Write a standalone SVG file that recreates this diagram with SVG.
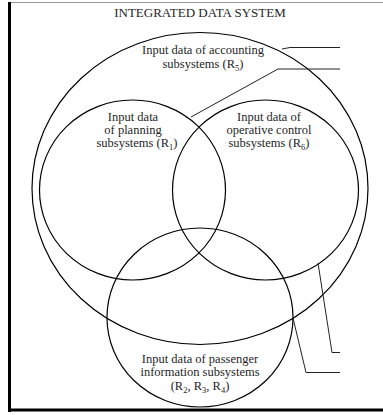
<svg xmlns="http://www.w3.org/2000/svg" width="383" height="415" viewBox="0 0 383 415">
  <style>
    .set { fill: none; stroke: #000; stroke-width: 1.2; }
    .lead { fill: none; stroke: #222; stroke-width: 1; }
    .frame { stroke: #000; stroke-width: 3; }
    .label { font-family: "Liberation Serif", "Times New Roman", serif; font-size: 12.5px; fill: #262626; text-anchor: middle; }
    .title { font-size: 13px; }
    .sub { font-size: 8.5px; }
  </style>

  <rect width="383" height="415" fill="#fff"/>

  <!-- frame (right edge lies beyond the canvas) -->
  <g id="frame">
    <line x1="8" y1="2.5" x2="383" y2="2.5" stroke="#9a9a9a" stroke-width="1"/>
    <line class="frame" x1="9.5" y1="2" x2="9.5" y2="412"/>
    <line class="frame" x1="8" y1="410" x2="383" y2="410"/>
    <text class="label title" x="200" y="16.5">INTEGRATED DATA SYSTEM</text>
  </g>

  <g id="accounting">
    <ellipse class="set" cx="200" cy="188.5" rx="168" ry="156"/>
    <text class="label" x="203" y="54">Input data of accounting</text>
    <text class="label" x="203" y="67.5">subsystems (R<tspan class="sub" dy="3">5</tspan><tspan dy="-3">)</tspan></text>
  </g>

  <g id="planning">
    <ellipse class="set" cx="132.5" cy="190" rx="93" ry="90"/>
    <text class="label" x="133" y="121">Input data</text>
    <text class="label" x="133" y="134">of planning</text>
    <text class="label" x="137" y="147">subsystems (R<tspan class="sub" dy="3">1</tspan><tspan dy="-3">)</tspan></text>
  </g>

  <g id="operative">
    <ellipse class="set" cx="265.5" cy="190" rx="93" ry="90"/>
    <text class="label" x="269" y="121">Input data of</text>
    <text class="label" x="269" y="134">operative control</text>
    <text class="label" x="269" y="147">subsystems (R<tspan class="sub" dy="3">6</tspan><tspan dy="-3">)</tspan></text>
  </g>

  <g id="passenger">
    <ellipse class="set" cx="200" cy="317.5" rx="93" ry="89.5"/>
    <text class="label" x="200" y="362.5">Input data of passenger</text>
    <text class="label" x="200" y="376">information subsystems</text>
    <text class="label" x="200" y="389.5">(R<tspan class="sub" dy="3">2</tspan><tspan dy="-3">, R</tspan><tspan class="sub" dy="3">3</tspan><tspan dy="-3">, R</tspan><tspan class="sub" dy="3">4</tspan><tspan dy="-3">)</tspan></text>
  </g>

  <!-- leader lines running out to the right margin -->
  <g id="connectors">
    <polyline class="lead" points="282,49 290,47.5 340,47.5"/>
    <polyline class="lead" points="191,117 278,69 340,69"/>
    <polyline class="lead" points="318,263 332,352.5 340,352.5"/>
    <polyline class="lead" points="293,318 306,372.5 340,372.5"/>
  </g>
</svg>
